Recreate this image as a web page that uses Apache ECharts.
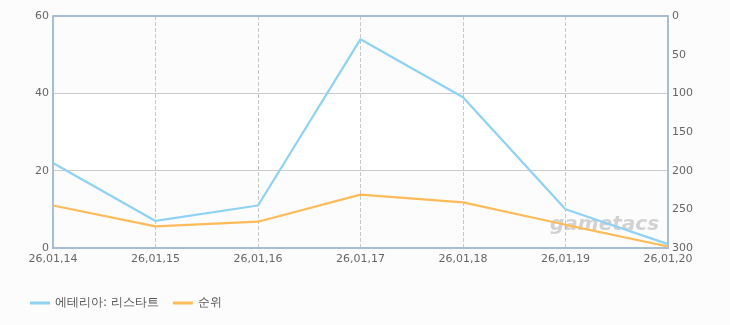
<!DOCTYPE html>
<html><head><meta charset="utf-8">
<script src="https://cdn.jsdelivr.net/npm/echarts@6/dist/echarts.min.js"></script>
<style>html,body{margin:0;padding:0;background:#fcfcfc;}#c{width:730px;height:325px;}</style>
</head><body><div id="c"></div>
<script>
const categories = ['26,01,14','26,01,15','26,01,16','26,01,17','26,01,18','26,01,19','26,01,20'];
const viewers = [22, 7, 11, 54, 39, 10, 1];
const ranks = [245, 272, 266, 231, 241, 270, 298];
const seriesNames = ['에테리아: 리스타트', '순위'];

const chart = echarts.init(document.getElementById('c'));
const font = '"DejaVu Sans", sans-serif';
chart.setOption({
  backgroundColor: '#fcfcfc',
  animation: false,
  grid: {left: 53, right: 62, top: 16, bottom: 77, containLabel: false},
  legend: {
    left: 25, top: 292, itemWidth: 20, itemHeight: 3, itemGap: 14, icon: 'rect',
    textStyle: {color: '#555', fontSize: 12, fontFamily: font},
    data: seriesNames
  },
  graphic: [{
    type: 'text', left: 550, top: 215, z: 1, silent: true,
    style: {text: 'gametacs', fontSize: 20, fontStyle: 'italic', fontWeight: 'bold',
      fontFamily: '"DejaVu Sans", sans-serif', fill: 'rgba(160,160,160,0.45)'}
  }],
  xAxis: {
    type: 'category', data: categories, boundaryGap: false,
    axisLine: {lineStyle: {color: '#a9bdd2', width: 2}},
    axisTick: {show: false},
    axisLabel: {color: '#666', fontSize: 11, fontFamily: font, margin: 6, showMinLabel: true, showMaxLabel: true, interval: 0},
    splitLine: {show: true, lineStyle: {type: 'dashed', color: '#c8c8c8'}}
  },
  yAxis: [{
    type: 'value', min: 0, max: 60, interval: 20, position: 'left',
    axisLine: {show: true, lineStyle: {color: '#a9bdd2', width: 2}},
    axisTick: {show: false},
    axisLabel: {color: '#666', fontSize: 11, fontFamily: font, margin: 4},
    splitLine: {show: true, lineStyle: {color: '#cccccc'}},
    splitArea: {show: true, areaStyle: {color: ['#fcfcfc', '#ffffff']}}
  }, {
    type: 'value', min: 0, max: 300, interval: 50, inverse: true, position: 'right',
    axisLine: {show: true, lineStyle: {color: '#a9bdd2', width: 2}},
    axisTick: {show: false},
    axisLabel: {color: '#666', fontSize: 11, fontFamily: font, margin: 4},
    splitLine: {show: false}
  }],
  series: [{
    name: seriesNames[0], type: 'line', data: viewers, yAxisIndex: 0, z: 5,
    showSymbol: false, symbol: 'none',
    lineStyle: {color: '#8fd2f3', width: 2.2}, itemStyle: {color: '#8fd2f3'}
  }, {
    name: seriesNames[1], type: 'line', data: ranks, yAxisIndex: 1, z: 5,
    showSymbol: false, symbol: 'none',
    lineStyle: {color: '#fdbb5a', width: 2.2}, itemStyle: {color: '#fdbb5a'}
  }, {
    type: 'line', data: [], xAxisIndex: 0, yAxisIndex: 0,
    markLine: {silent: true, symbol: 'none', label: {show: false},
      lineStyle: {color: '#a9bdd2', width: 2, type: 'solid'},
      data: [{yAxis: 60}]}
  }]
});
</script></body></html>
